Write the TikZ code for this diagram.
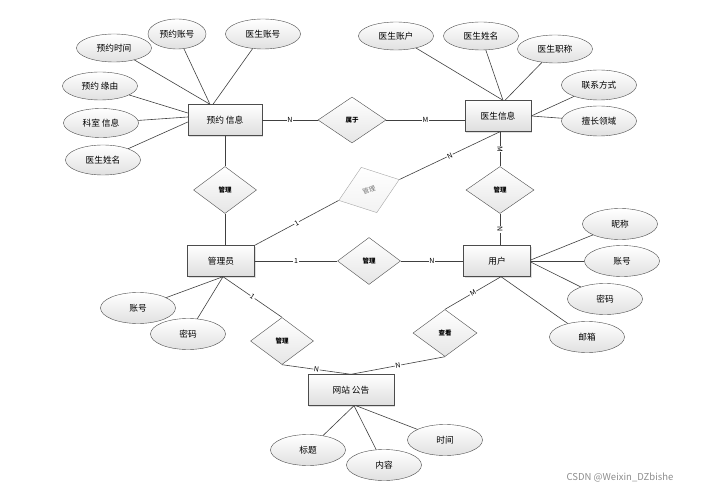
\documentclass[tikz,border=0pt]{standalone}
\usepackage{fontspec}
\setmainfont{Noto Sans CJK SC}
\usepackage{tikz}
\usetikzlibrary{shapes.geometric,shadows}

\begin{document}
\begin{tikzpicture}[x=1pt,y=-1pt,
  entity/.style={rectangle,draw=black!70,top color=white,bottom color=black!13,minimum width=67pt,minimum height=31pt,font=\fontsize{8.7}{10}\selectfont,drop shadow={opacity=0.25,shadow xshift=1.2pt,shadow yshift=-1.2pt}},
  attr/.style={ellipse,draw=black!70,top color=white,bottom color=black!12,minimum width=75pt,minimum height=30pt,inner sep=0pt,font=\fontsize{8.7}{10}\selectfont},
  rel/.style={diamond,draw=black!70,top color=white,bottom color=black!10,minimum width=63pt,minimum height=47pt,inner sep=0pt,font=\fontsize{6.5}{7}\selectfont\bfseries},
  card/.style={fill=white,inner sep=0.6pt,sloped,font=\fontsize{7}{8}\selectfont},
  every edge/.style={draw=black!75,line width=0.6pt}]
\useasboundingbox (0,0) rectangle (707,489);
% entities
\node[entity] (Yuyue) at (225,120) [minimum width=74pt] {预约\hspace{2pt}信息};
\node[entity] (Yisheng) at (498,116) [minimum width=66pt] {医生信息};
\node[entity] (Admin) at (221,261) {管理员};
\node[entity] (User) at (497,261) {用户};
\node[entity] (Notice) at (351,390) [minimum width=86pt] {网站\hspace{2pt}公告};
% attributes
\node[attr] (yyTime) at (114,48) [minimum height=28pt] {预约时间};
\node[attr] (yyAcct) at (177,34) [minimum width=58pt] {预约账号};
\node[attr] (ysAcct) at (263,34) {医生账号};
\node[attr] (yyReason) at (100,86) [minimum height=28pt] {预约\hspace{2pt}缘由};
\node[attr] (yyDept) at (101,123) [minimum height=29pt] {科室\hspace{2pt}信息};
\node[attr] (yyDoc) at (103,160) {医生姓名};
\node[attr] (docAcct) at (396,36) [minimum height=28pt] {医生账户};
\node[attr] (docName) at (481,36) [minimum height=28pt] {医生姓名};
\node[attr] (docTitle) at (555,49) [minimum height=28pt] {医生职称};
\node[attr] (docTel) at (599,85) {联系方式};
\node[attr] (docField) at (599,121) {擅长领域};
\node[attr] (uNick) at (620,224) [minimum height=31pt] {昵称};
\node[attr] (uAcct) at (622,261) [minimum height=31pt] {账号};
\node[attr] (uPwd) at (605,299) [minimum height=31pt] {密码};
\node[attr] (uMail) at (587,337) [minimum height=31pt] {邮箱};
\node[attr] (aAcct) at (138,308) [minimum height=31pt] {账号};
\node[attr] (aPwd) at (188,334) [minimum height=31pt] {密码};
\node[attr] (nTitle) at (308,450) [minimum height=31pt] {标题};
\node[attr] (nBody) at (384,465) [minimum height=31pt] {内容};
\node[attr] (nTime) at (445,440) [minimum height=31pt] {时间};
% relations
\node[rel] (Belong) at (352,120) [minimum width=68pt,minimum height=46pt] {属于};
\node[rel] (MgrA) at (225,190) {管理};
\node[rel] (MgrB) at (500,190) [minimum width=68pt] {管理};
\node[rel] (MgrC) at (369,261) {管理};
\node[rel] (MgrD) at (282,341) {管理};
\node[rel] (View) at (445,333) [minimum width=64pt] {查看};
\node[rel] (MgrE) at (369,190) [draw=black!35,bottom color=black!5,text=black!55,rotate=19,minimum width=64pt,minimum height=48pt,font=\fontsize{6.5}{7}\selectfont] {管理};
\node[text=black!45,font=\fontsize{9.5}{11}\selectfont] (mark) at (620,478) {CSDN @Weixin\_DZbishe};
\path
(yyTime) edge ([xshift=-15pt]Yuyue.north)
(yyAcct) edge ([xshift=-15pt]Yuyue.north)
(ysAcct) edge ([xshift=-12pt]Yuyue.north)
(yyReason) edge ([yshift=7pt]Yuyue.west)
(yyDept) edge ([yshift=3pt]Yuyue.west)
(yyDoc) edge ([yshift=-2pt]Yuyue.west)
(Yuyue) edge node[card] {N} (Belong)
        edge (MgrA)
(Belong) edge node[card] {M} (Belong -| Yisheng.west)
(MgrA) edge (MgrA |- Admin.north)
(docAcct) edge ([xshift=5pt]Yisheng.north)
(docName) edge ([xshift=5pt]Yisheng.north)
(docTitle) edge ([xshift=7pt]Yisheng.north)
(docTel) edge (Yisheng.east)
(docField) edge (Yisheng.east)
(MgrB |- Yisheng.south) edge node[card] {M} (MgrB)
(MgrB) edge node[card] {N} (MgrB |- User.north)
(Admin.north east) edge node[card] {1} (MgrE.west)
(MgrE.east) edge node[card] {N} ([xshift=2pt]Yisheng.south)
(Admin) edge node[card] {1} (MgrC)
(MgrC) edge node[card] {N} (User)
(uNick) edge ([yshift=1pt]User.east)
(uAcct) edge (User.east)
(uPwd) edge ([yshift=-1pt]User.east)
(uMail) edge ([xshift=4pt]User.south)
(View.north) edge node[card] {M} ([xshift=4pt]User.south)
(aAcct) edge ([xshift=2pt]Admin.south)
(aPwd) edge ([xshift=2pt]Admin.south)
([xshift=2pt]Admin.south) edge node[card] {1} (MgrD.north)
(MgrD.south) edge node[card] {N} (Notice.north)
(View.south) edge node[card] {N} (Notice.north)
(nTitle) edge ([xshift=3pt]Notice.south)
(nBody) edge ([xshift=3pt]Notice.south)
(nTime) edge ([xshift=5pt]Notice.south);
\end{tikzpicture}
\end{document}
